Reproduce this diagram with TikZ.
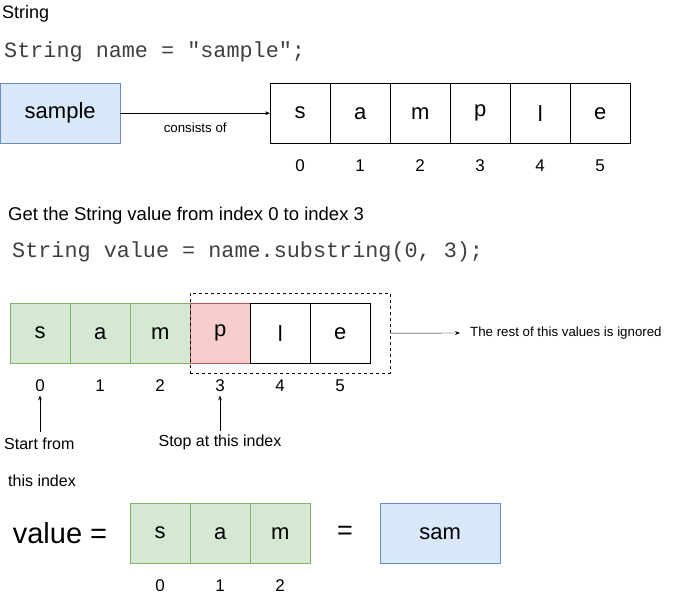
\documentclass[tikz,border=0pt]{standalone}
\usepackage{fontspec}
\setmainfont{Liberation Sans}
\setmonofont{Liberation Mono}
\usetikzlibrary{arrows.meta, positioning}
\definecolor{bluefill}{HTML}{DAE8FC}\definecolor{bluedraw}{HTML}{6C8EBF}
\definecolor{greenfill}{HTML}{D5E8D4}\definecolor{greendraw}{HTML}{82B366}
\definecolor{redfill}{HTML}{F8CECC}\definecolor{reddraw}{HTML}{B85450}
\begin{document}
\begin{tikzpicture}[x=1pt, y=-1pt, >=Stealth,
  cell/.style={draw, minimum width=60pt, minimum height=60pt, inner sep=0pt, font=\fontsize{22}{22}\selectfont, anchor=north west},
  bluebox/.style={cell, fill=bluefill, draw=bluedraw, minimum width=120pt},
  greencell/.style={cell, fill=greenfill, draw=greendraw},
  redcell/.style={cell, fill=redfill, draw=reddraw},
  idx/.style={font=\fontsize{17}{17}\selectfont},
  lbl/.style={font=\fontsize{13.3}{13.3}\selectfont}]
\useasboundingbox (0,0) rectangle (681,601);

% Declaration
\node[anchor=west, inner sep=0pt, font=\fontsize{18}{18}\selectfont] (title) at (2,14) {String};
\node[anchor=west, inner sep=0pt, font=\ttfamily\fontsize{21.8}{21.8}\selectfont, text=black!75] (decl) at (4,52) {String name = "sample";};
\node[bluebox] (name) at (0,83) {sample};

% Characters of name
\foreach \c [count=\i from 0] in {s,a,m,p,l,e} {
  \node[cell] (n\i) at (270+60*\i,83) {\c};
  \node[idx] (ni\i) at (300+60*\i,166) {\i};
}
\draw[->] (name.east) -- node[below=6pt, lbl] {consists of} (n0.west);

% Substring
\node[anchor=west, inner sep=0pt, font=\fontsize{18.5}{18.5}\selectfont] (get) at (8,216) {Get the String value from index 0 to index 3};
\node[anchor=west, inner sep=0pt, font=\ttfamily\fontsize{21.8}{21.8}\selectfont, text=black!75] (call) at (12,252) {String value = name.substring(0, 3);};
\foreach \c/\s [count=\i from 0] in {s/greencell,a/greencell,m/greencell,p/redcell,l/cell,e/cell} {
  \node[\s] (s\i) at (10+60*\i,303) {\c};
  \node[idx] (si\i) at (40+60*\i,386) {\i};
}
\node[draw, dashed, minimum width=200pt, minimum height=80pt, anchor=north west] (rest) at (190,293) {};
\coordinate (restend) at (460,333);
\draw[->] (rest.east) -- (restend);
\node[anchor=west, lbl, inner sep=0pt] (ignored) at (470,333) {The rest of this values is ignored};

\node[anchor=west, font=\fontsize{16}{16}\selectfont, inner sep=0pt] (start) at (4,444) {Start from};
\node[anchor=west, font=\fontsize{16}{16}\selectfont, inner sep=0pt] (start2) at (8,481) {this index};
\draw[->] (40,432) -- (si0.south);
\node[font=\fontsize{16}{16}\selectfont] (stop) at (220,442) {Stop at this index};
\draw[->] (stop.north) -- (si3.south);

% Result
\node[font=\fontsize{29}{29}\selectfont] (value) at (60,533) {value =};
\foreach \c [count=\i from 0] in {s,a,m} {
  \node[greencell] (r\i) at (130+60*\i,503) {\c};
  \node[idx] (ri\i) at (160+60*\i,586) {\i};
}
\node[font=\fontsize{27}{27}\selectfont] (eq) at (345,533) {=};
\node[bluebox] (sam) at (380,503) {sam};
\end{tikzpicture}
\end{document}
